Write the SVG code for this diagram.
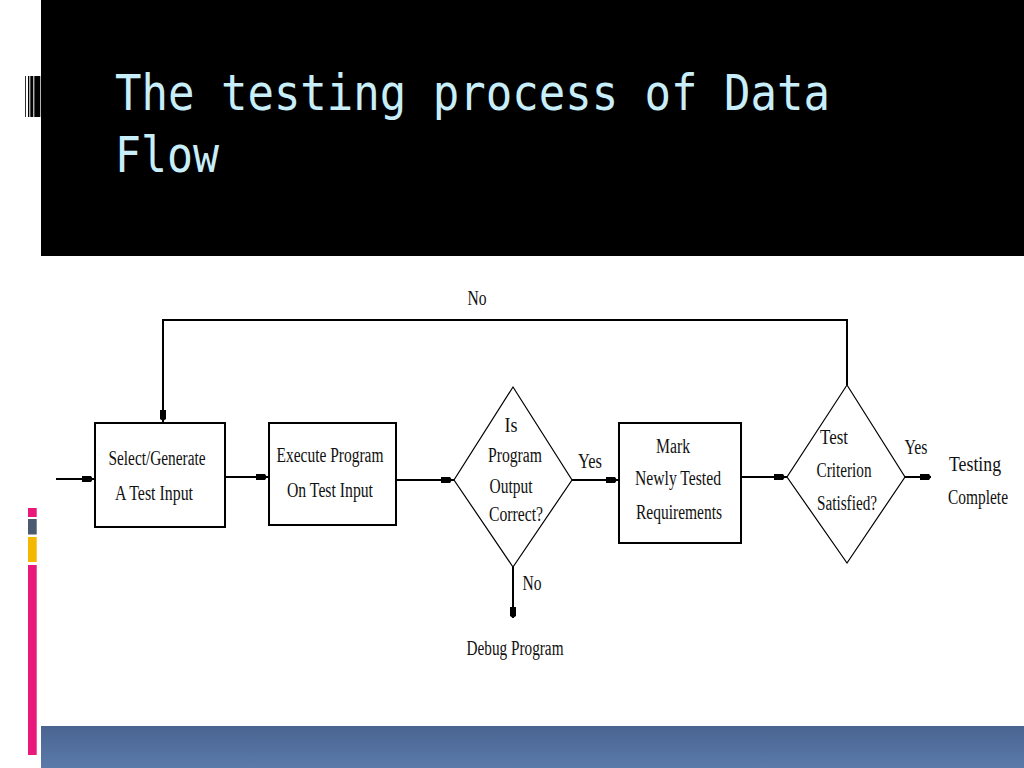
<svg xmlns="http://www.w3.org/2000/svg" width="1024" height="768" viewBox="0 0 1024 768">
<style>
.lbl{font-family:"Liberation Serif","Times New Roman",serif;font-size:20px;fill:#111;text-anchor:middle}
.box{fill:#fff;stroke:#000;stroke-width:2}
.dia{fill:#fff;stroke:#000;stroke-width:1.2}
.con{fill:none;stroke:#000;stroke-width:2}
.title{font-family:"DejaVu Sans Mono","Liberation Mono",monospace;font-size:50px;fill:#c8eefa}
</style>
<defs>
<marker id="ah" markerUnits="userSpaceOnUse" markerWidth="16" markerHeight="10" viewBox="-1 -5 16 10" refX="13" refY="0" orient="auto">
<path d="M0,-3 L9,-3 L11,0 L9,3 L0,3 Z" fill="#000"/>
</marker>
<marker id="ah0" markerUnits="userSpaceOnUse" markerWidth="16" markerHeight="10" viewBox="-1 -5 16 10" refX="11" refY="0" orient="auto">
<path d="M0,-3 L9,-3 L11,0 L9,3 L0,3 Z" fill="#000"/>
</marker>
<linearGradient id="band" x1="0" y1="0" x2="0" y2="1">
<stop offset="0" stop-color="#4a6490"/>
<stop offset="1" stop-color="#5a7aab"/>
</linearGradient>
</defs>
<rect x="0" y="0" width="1024" height="768" fill="#fff"/>
<g id="header">
<rect x="41" y="0" width="983" height="256" fill="#000"/>
<rect x="25" y="76" width="0.8" height="41" fill="#000"/>
<rect x="28" y="76" width="1.3" height="41" fill="#000"/>
<rect x="30.3" y="76" width="3" height="41" fill="#000"/>
<rect x="34.3" y="76" width="6" height="41" fill="#000"/>
<text class="title" x="115" y="110" textLength="715" lengthAdjust="spacingAndGlyphs">The testing process of Data</text>
<text class="title" x="115" y="172" textLength="104" lengthAdjust="spacingAndGlyphs">Flow</text>
</g>
<g id="decor">
<rect x="28" y="508" width="8.7" height="9" fill="#e8197a"/>
<rect x="28" y="519" width="8.7" height="15.5" fill="#4a5a70"/>
<rect x="28" y="537" width="8.7" height="25" fill="#f5b800"/>
<rect x="28" y="565" width="8.7" height="190" fill="#e8197a"/>
<rect x="41" y="726" width="983" height="42" fill="url(#band)"/>
</g>
<g id="connectors">
<path class="con" d="M56,479 H95" marker-end="url(#ah)"/>
<path class="con" d="M225,477 H269" marker-end="url(#ah)"/>
<path class="con" d="M396,480 H454" marker-end="url(#ah)"/>
<path class="con" d="M572,480 H619" marker-end="url(#ah)"/>
<path class="con" d="M741,477 H787" marker-end="url(#ah)"/>
<path class="con" d="M904,477 H931" marker-end="url(#ah0)"/>
<path class="con" d="M513,567 V618" marker-end="url(#ah0)"/>
<path class="con" d="M847,385 V320 H163 V423" marker-end="url(#ah)"/>
<text class="lbl" x="477" y="305" textLength="19" lengthAdjust="spacingAndGlyphs">No</text>
<text class="lbl" x="590" y="468" textLength="24" lengthAdjust="spacingAndGlyphs">Yes</text>
<text class="lbl" x="532" y="590" textLength="19" lengthAdjust="spacingAndGlyphs">No</text>
<text class="lbl" x="916" y="454" textLength="23" lengthAdjust="spacingAndGlyphs">Yes</text>
</g>
<g id="select">
<rect class="box" x="95" y="423" width="130" height="104"/>
<text class="lbl" x="157" y="465" textLength="97" lengthAdjust="spacingAndGlyphs">Select/Generate</text>
<text class="lbl" x="154" y="500" textLength="78" lengthAdjust="spacingAndGlyphs">A Test Input</text>
</g>
<g id="execute">
<rect class="box" x="269" y="423" width="127" height="102"/>
<text class="lbl" x="330" y="462" textLength="107" lengthAdjust="spacingAndGlyphs">Execute Program</text>
<text class="lbl" x="330" y="497" textLength="86" lengthAdjust="spacingAndGlyphs">On Test Input</text>
</g>
<g id="correct">
<path class="dia" d="M513,387 L572,480 L513,567 L454,480 Z"/>
<text class="lbl" x="511" y="432" textLength="13" lengthAdjust="spacingAndGlyphs">Is</text>
<text class="lbl" x="515" y="462" textLength="54" lengthAdjust="spacingAndGlyphs">Program</text>
<text class="lbl" x="511" y="493" textLength="43" lengthAdjust="spacingAndGlyphs">Output</text>
<text class="lbl" x="516" y="521" textLength="54" lengthAdjust="spacingAndGlyphs">Correct?</text>
</g>
<g id="mark">
<rect class="box" x="619" y="423" width="122" height="120"/>
<text class="lbl" x="673" y="453" textLength="34" lengthAdjust="spacingAndGlyphs">Mark</text>
<text class="lbl" x="678" y="485" textLength="86" lengthAdjust="spacingAndGlyphs">Newly Tested</text>
<text class="lbl" x="679" y="519" textLength="86" lengthAdjust="spacingAndGlyphs">Requirements</text>
</g>
<g id="criterion">
<path class="dia" d="M847,385 L905,477 L847,563 L787,477 Z"/>
<text class="lbl" x="834" y="444" textLength="28" lengthAdjust="spacingAndGlyphs">Test</text>
<text class="lbl" x="844" y="477" textLength="55" lengthAdjust="spacingAndGlyphs">Criterion</text>
<text class="lbl" x="847" y="510" textLength="60" lengthAdjust="spacingAndGlyphs">Satisfied?</text>
</g>
<g id="debug">
<text class="lbl" x="515" y="655" textLength="97" lengthAdjust="spacingAndGlyphs">Debug Program</text>
</g>
<g id="complete">
<text class="lbl" x="975" y="471" textLength="52" lengthAdjust="spacingAndGlyphs">Testing</text>
<text class="lbl" x="978" y="504" textLength="60" lengthAdjust="spacingAndGlyphs">Complete</text>
</g>
</svg>
